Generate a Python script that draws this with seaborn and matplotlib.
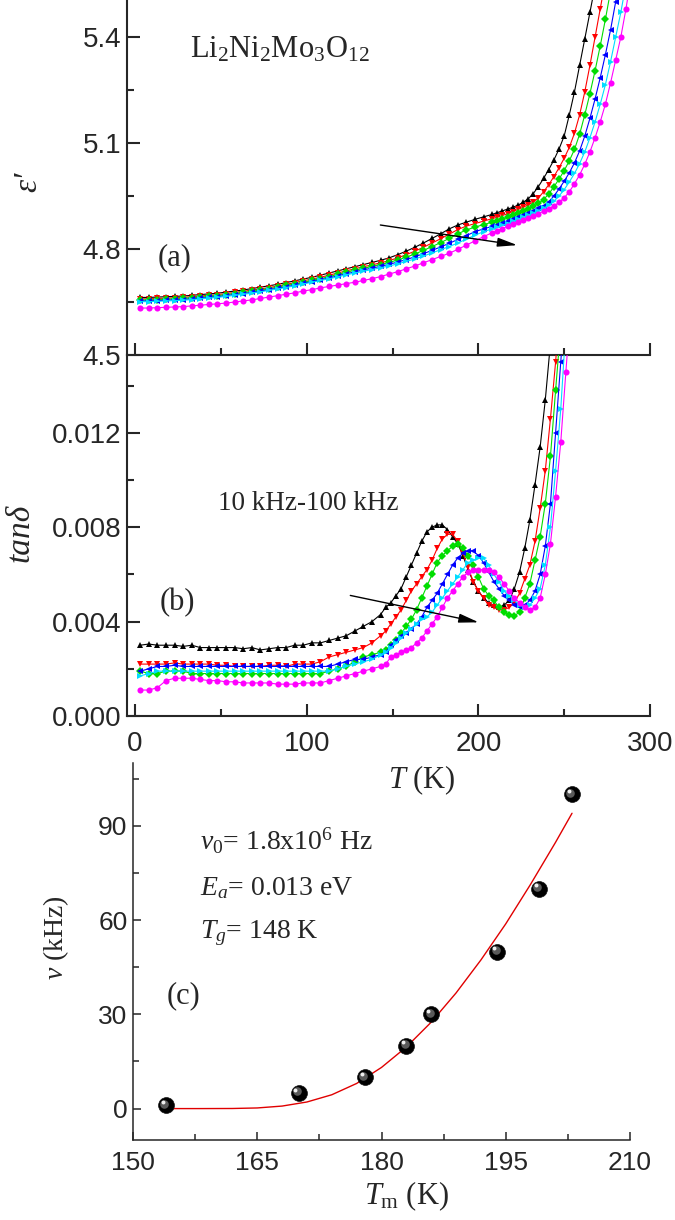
import pandas as pd
import matplotlib
matplotlib.use("Agg")
import matplotlib.pyplot as plt
import matplotlib.transforms as mtransforms
from matplotlib.ticker import MultipleLocator, FormatStrFormatter
import seaborn as sns

# ---- data ----
freqs = ["10 kHz", "20 kHz", "30 kHz", "50 kHz", "70 kHz", "100 kHz"]
colors = ["#000000", "#ff0000", "#00dd00", "#0000ff", "#00ddff", "#ff00ff"]
markers = ["^", "v", "D", "<", ">", "o"]

# (a) real permittivity
T_eps = [3, 8, 13, 18, 23, 28, 33, 38, 43, 48, 53, 58, 63, 68, 73, 78, 83, 88, 93, 98,
         103, 108, 113, 118, 123, 128, 133, 138, 143, 148, 153, 158, 163, 168, 173, 178,
         183, 188, 193, 198, 203, 208,
         211, 214, 217, 220, 223, 226, 229, 232, 235, 238, 241, 244, 247, 250, 253, 256,
         259, 262, 265, 268, 271, 274, 277, 280, 283, 286, 289]
eps_10k = [4.663, 4.663, 4.664, 4.665, 4.666, 4.667, 4.669, 4.671, 4.673, 4.675, 4.678, 4.681,
           4.684, 4.688, 4.692, 4.696, 4.700, 4.705, 4.710, 4.715, 4.720, 4.726, 4.732, 4.738,
           4.744, 4.750, 4.756, 4.762, 4.768, 4.775, 4.784, 4.794, 4.805, 4.817, 4.830, 4.843,
           4.857, 4.868, 4.876, 4.884, 4.891, 4.898,
           4.903, 4.908, 4.913, 4.918, 4.924, 4.932, 4.942, 4.957, 4.977, 5.000, 5.025, 5.052,
           5.083, 5.120, 5.180, 5.245, 5.320, 5.395, 5.470, 5.545,
           None, None, None, None, None, None, None]
eps_20k = [4.659, 4.659, 4.660, 4.661, 4.662, 4.663, 4.665, 4.667, 4.669, 4.671, 4.674, 4.677,
           4.680, 4.684, 4.687, 4.691, 4.695, 4.700, 4.705, 4.710, 4.715, 4.720, 4.726, 4.732,
           4.738, 4.744, 4.750, 4.755, 4.761, 4.767, 4.775, 4.784, 4.794, 4.805, 4.817, 4.829,
           4.842, 4.855, 4.865, 4.872, 4.879, 4.886,
           4.890, 4.895, 4.900, 4.906, 4.912, 4.918, 4.925, 4.933, 4.945, 4.962, 4.982, 5.005,
           5.030, 5.057, 5.088, 5.128, 5.180, 5.245, 5.320, 5.400, 5.480, 5.560,
           None, None, None, None, None]
eps_30k = [4.656, 4.656, 4.657, 4.658, 4.659, 4.660, 4.662, 4.664, 4.666, 4.668, 4.671, 4.674,
           4.677, 4.680, 4.684, 4.688, 4.692, 4.697, 4.701, 4.706, 4.711, 4.716, 4.722, 4.728,
           4.734, 4.740, 4.745, 4.751, 4.756, 4.762, 4.769, 4.777, 4.786, 4.796, 4.807, 4.818,
           4.830, 4.843, 4.854, 4.862, 4.869, 4.876,
           4.880, 4.885, 4.890, 4.896, 4.902, 4.908, 4.914, 4.921, 4.929, 4.940, 4.956, 4.976,
           4.998, 5.022, 5.050, 5.082, 5.125, 5.180, 5.240, 5.305, 5.375, 5.450, 5.530,
           None, None, None, None]
eps_50k = [4.653, 4.653, 4.654, 4.655, 4.656, 4.657, 4.659, 4.661, 4.663, 4.665, 4.668, 4.671,
           4.674, 4.677, 4.681, 4.685, 4.689, 4.693, 4.698, 4.703, 4.708, 4.713, 4.718, 4.724,
           4.730, 4.735, 4.741, 4.746, 4.751, 4.757, 4.763, 4.770, 4.778, 4.787, 4.796, 4.806,
           4.816, 4.827, 4.838, 4.849, 4.857, 4.864,
           4.868, 4.873, 4.878, 4.884, 4.890, 4.896, 4.902, 4.908, 4.915, 4.923, 4.934, 4.950,
           4.970, 4.992, 5.016, 5.044, 5.078, 5.120, 5.170, 5.225, 5.285, 5.350, 5.420, 5.500,
           5.580, None, None]
eps_70k = [4.651, 4.651, 4.652, 4.653, 4.654, 4.655, 4.657, 4.659, 4.661, 4.663, 4.666, 4.669,
           4.672, 4.675, 4.679, 4.683, 4.687, 4.691, 4.696, 4.701, 4.706, 4.711, 4.716, 4.721,
           4.727, 4.732, 4.737, 4.742, 4.747, 4.752, 4.758, 4.765, 4.772, 4.780, 4.789, 4.798,
           4.807, 4.817, 4.828, 4.839, 4.849, 4.857,
           4.862, 4.867, 4.872, 4.878, 4.884, 4.890, 4.896, 4.902, 4.909, 4.916, 4.924, 4.935,
           4.950, 4.968, 4.990, 5.014, 5.042, 5.075, 5.115, 5.160, 5.210, 5.265, 5.330, 5.400,
           5.470, 5.550, None]
eps_100k = [4.633, 4.633, 4.634, 4.635, 4.636, 4.637, 4.639, 4.641, 4.643, 4.645, 4.647, 4.650,
            4.653, 4.656, 4.660, 4.664, 4.668, 4.672, 4.676, 4.681, 4.685, 4.690, 4.694, 4.698,
            4.702, 4.706, 4.711, 4.716, 4.722, 4.729, 4.736, 4.744, 4.752, 4.761, 4.770, 4.779,
            4.788, 4.799, 4.811, 4.823, 4.835, 4.846,
            4.852, 4.858, 4.864, 4.870, 4.876, 4.882, 4.888, 4.894, 4.900, 4.907, 4.914, 4.922,
            4.932, 4.945, 4.962, 4.985, 5.010, 5.040, 5.075, 5.115, 5.160, 5.210, 5.270, 5.335,
            5.400, 5.480, 5.570]

# (b) loss tangent
T_tan = [3, 8, 13, 18, 23, 28, 33, 38, 43, 48, 53, 58, 63, 68, 73, 78, 83, 88, 93, 98,
         103, 108, 113, 118, 123, 128, 133, 138, 143,
         146, 149, 152, 155, 158, 161, 164, 167, 170, 173, 176, 179, 182, 185, 188, 191,
         194, 197, 200, 203, 206, 209, 212, 215, 218, 221, 224, 227, 230, 233, 236, 239,
         242, 245, 248, 251, 254]
tan_10k = [0.0030, 0.00305, 0.0030, 0.0030, 0.0030, 0.00295, 0.0030, 0.0029, 0.0029, 0.0029,
           0.0029, 0.0029, 0.00285, 0.0029, 0.0028, 0.00285, 0.0029, 0.0029, 0.0030, 0.0030,
           0.0031, 0.0031, 0.0032, 0.0033, 0.0034, 0.0036, 0.0038, 0.0040, 0.0043,
           0.0046, 0.0048, 0.0051, 0.0054, 0.0059, 0.0064, 0.0069, 0.0074, 0.0078, 0.0080,
           0.0081, 0.0081, 0.0079, 0.0076, 0.0073, 0.0068, 0.0062, 0.0057, 0.0053, 0.0050,
           0.0048, 0.0047, 0.0046, 0.0047, 0.0049, 0.0054, 0.0061, 0.0071, 0.0083, 0.0098,
           0.0114, 0.0134, 0.0158, None, None, None, None]
tan_20k = [0.0022, 0.0022, 0.0022, 0.0022, 0.00225, 0.0022, 0.0022, 0.0022, 0.0022, 0.00215,
           0.00215, 0.0021, 0.0021, 0.0021, 0.0021, 0.00215, 0.00215, 0.0021, 0.0022, 0.0022,
           0.0022, 0.0023, 0.0025, 0.0026, 0.0027, 0.0028, 0.0029, 0.0031, 0.0034,
           0.0036, 0.0039, 0.0042, 0.0045, 0.0049, 0.0053, 0.0056, 0.0059, 0.0062, 0.0066,
           0.0071, 0.0075, 0.0077, 0.0077, 0.0074, 0.0069, 0.0063, 0.0057, 0.0053, 0.0050,
           0.0047, 0.0046, 0.0045, 0.0045, 0.0046, 0.0048, 0.0052, 0.0058, 0.0064, 0.0074,
           0.0088, 0.0104, 0.0126, 0.0150, 0.0178, None, None]
tan_30k = [0.0019, 0.0018, 0.0018, 0.0019, 0.0019, 0.0019, 0.0018, 0.0018, 0.0018, 0.0018,
           0.0018, 0.0018, 0.0018, 0.0018, 0.0018, 0.0018, 0.0018, 0.0018, 0.0018, 0.0018,
           0.0018, 0.0018, 0.0019, 0.0020, 0.0021, 0.0023, 0.0025, 0.0026, 0.0027,
           0.0028, 0.0030, 0.0032, 0.0035, 0.0038, 0.0041, 0.0045, 0.0050, 0.0055, 0.0060,
           0.0065, 0.0068, 0.0070, 0.0072, 0.0073, 0.0071, 0.0068, 0.0064, 0.0059, 0.0054,
           0.0051, 0.0049, 0.0046, 0.0044, 0.0043, 0.00425, 0.0044, 0.0050, 0.0056, 0.0066,
           0.0076, 0.0090, 0.0110, 0.0138, 0.0165, 0.0190, None]
tan_50k = [0.0019, 0.0020, 0.0021, 0.0021, 0.00215, 0.0021, 0.0021, 0.0021, 0.0021, 0.0021,
           0.0021, 0.0021, 0.0021, 0.0021, 0.0021, 0.0021, 0.0021, 0.0021, 0.0021, 0.0021,
           0.0021, 0.0021, 0.0021, 0.0022, 0.0023, 0.0024, 0.0024, 0.0025, 0.0026,
           0.0027, 0.0030, 0.0032, 0.0034, 0.0035, 0.0037, 0.0039, 0.0042, 0.0046, 0.0049,
           0.0052, 0.0056, 0.0060, 0.0064, 0.0067, 0.0069, 0.0070, 0.0070, 0.0068, 0.0065,
           0.0061, 0.0057, 0.0054, 0.0051, 0.0049, 0.0047, 0.0046, 0.0047, 0.0049, 0.0053,
           0.0060, 0.0072, 0.0090, 0.0120, 0.0150, 0.0180, None]
tan_70k = [0.0017, 0.0018, 0.0019, 0.0019, 0.0019, 0.0019, 0.0019, 0.0019, 0.0019, 0.0019,
           0.0019, 0.0019, 0.0019, 0.0019, 0.0019, 0.0019, 0.0019, 0.0019, 0.0019, 0.0019,
           0.0019, 0.0019, 0.0019, 0.0020, 0.0021, 0.0022, 0.0023, 0.0024, 0.0026,
           0.0027, 0.0029, 0.0031, 0.0033, 0.0035, 0.0037, 0.0039, 0.0041, 0.0042, 0.0044,
           0.0047, 0.0050, 0.0053, 0.0056, 0.0059, 0.0062, 0.0065, 0.0066, 0.0067, 0.0067,
           0.0064, 0.0060, 0.0057, 0.0053, 0.0051, 0.0049, 0.0047, 0.0046, 0.0047, 0.0050,
           0.0054, 0.0064, 0.0080, 0.0104, 0.0130, 0.0165, 0.0195]
tan_100k = [0.0011, 0.0011, 0.0012, 0.0015, 0.0016, 0.0016, 0.0016, 0.00155, 0.0015, 0.0015,
            0.00145, 0.00145, 0.0014, 0.0014, 0.0014, 0.0014, 0.00135, 0.00135, 0.00135, 0.0014,
            0.0014, 0.0014, 0.0015, 0.0016, 0.0017, 0.0018, 0.0019, 0.0020, 0.0021,
            0.0022, 0.0025, 0.0026, 0.0027, 0.0028, 0.0029, 0.0031, 0.0033, 0.0036, 0.0039,
            0.0042, 0.0046, 0.0050, 0.0053, 0.0056, 0.0059, 0.0061, 0.0062, 0.0062, 0.0062,
            0.0062, 0.0061, 0.0059, 0.0056, 0.0053, 0.0050, 0.0048, 0.0046, 0.0045, 0.0046,
            0.0050, 0.0060, 0.0073, 0.0093, 0.0116, 0.0146, 0.0175]

# (c) peak temperature vs frequency, with the Vogel-Fulcher curve
Tm = [154, 170, 178, 183, 186, 194, 199, 203]
nu = [1, 5, 10, 20, 30, 50, 70, 100]
T_fit = [154, 158, 162, 165, 168, 171, 174, 177, 180, 183, 186, 189, 192, 195, 198, 201, 203]
nu_fit = [0.0, 0.0, 0.03, 0.2, 0.8, 2.1, 4.4, 8.0, 13.1, 19.6, 27.5, 36.8, 47.3, 58.8, 71.4, 84.7, 94.0]


def long_frame(T, series):
    rows = []
    for f, vals in zip(freqs, series):
        for t, v in zip(T, vals):
            rows.append((f, t, v))
    return pd.DataFrame(rows, columns=["freq", "T", "val"]).astype({"val": float})


eps_df = long_frame(T_eps, [eps_10k, eps_20k, eps_30k, eps_50k, eps_70k, eps_100k])
tan_df = long_frame(T_tan, [tan_10k, tan_20k, tan_30k, tan_50k, tan_70k, tan_100k])

sns.set_style("ticks")
plt.rcParams["font.family"] = ["Liberation Sans", "DejaVu Sans"]
plt.rcParams["mathtext.fontset"] = "custom"
plt.rcParams["mathtext.rm"] = "Liberation Serif"
plt.rcParams["mathtext.it"] = "Liberation Serif:italic"
plt.rcParams["mathtext.bf"] = "Liberation Serif:bold"
serif = ["Liberation Serif", "DejaVu Serif"]

W, H = 675, 1220
fig = plt.figure(figsize=(W / 100, H / 100), dpi=100)
ax_a = fig.add_axes([127 / W, 1 - 355 / H, 523 / W, 355 / H])
ax_b = fig.add_axes([127 / W, 1 - 716 / H, 523 / W, 361 / H])
ax_c = fig.add_axes([133 / W, 1 - 1140 / H, 497 / W, 377 / H])
for ax in (ax_a, ax_b, ax_c):
    ax.patch.set_visible(False)

pal = dict(zip(freqs, colors))
mk = dict(zip(freqs, markers))
for ax, df in [(ax_a, eps_df), (ax_b, tan_df)]:
    sns.lineplot(data=df, x="T", y="val", hue="freq", style="freq", hue_order=freqs,
                 style_order=freqs, palette=pal, markers=mk, dashes=False, errorbar=None,
                 linewidth=0.8, markersize=4.4, markeredgewidth=0, legend=False, ax=ax)

# sphere-like markers
sns.lineplot(x=T_fit, y=nu_fit, color="#e00000", linewidth=1.0, ax=ax_c, zorder=2)
sns.scatterplot(x=Tm, y=nu, color="black", s=130, edgecolor="#111111", linewidth=0.5,
                ax=ax_c, zorder=3)
mid = mtransforms.offset_copy(ax_c.transData, fig=fig, x=-1.2, y=1.2, units="points")
hi = mtransforms.offset_copy(ax_c.transData, fig=fig, x=-2.4, y=2.4, units="points")
ax_c.scatter(Tm, nu, s=38, color="#5a5a5a", linewidths=0, transform=mid, zorder=4)
ax_c.scatter(Tm, nu, s=8, color="#f0f0f0", linewidths=0, transform=hi, zorder=5)

# axes styling
for ax in (ax_a, ax_b, ax_c):
    ax.spines["top"].set_visible(False)
    ax.spines["right"].set_visible(False)
    ax.set_xlabel("")
    ax.set_ylabel("")

for ax in (ax_a, ax_b):
    for s in ("left", "bottom"):
        ax.spines[s].set_linewidth(1.5)
    ax.set_xlim(-4.7, 300)
    ax.xaxis.set_major_locator(MultipleLocator(100))
    ax.xaxis.set_minor_locator(MultipleLocator(50))
    ax.tick_params(which="both", direction="in", width=1.5, labelsize=20, pad=4)
    ax.tick_params(which="major", length=9)
    ax.tick_params(which="minor", length=5)

ax_a.set_ylim(4.5, 5.505)
ax_a.yaxis.set_major_locator(MultipleLocator(0.3))
ax_a.yaxis.set_minor_locator(MultipleLocator(0.15))
ax_a.yaxis.set_major_formatter(FormatStrFormatter("%.1f"))
ax_a.tick_params(axis="x", labelbottom=False)

ax_b.set_ylim(0, 0.0153)
ax_b.yaxis.set_major_locator(MultipleLocator(0.004))
ax_b.yaxis.set_minor_locator(MultipleLocator(0.002))
ax_b.yaxis.set_major_formatter(FormatStrFormatter("%.3f"))
ax_b.xaxis.set_major_formatter(FormatStrFormatter("%d"))
ax_b.tick_params(axis="x", pad=11)

for s in ("left", "bottom"):
    ax_c.spines[s].set_linewidth(1.1)
ax_c.set_xlim(150, 210)
ax_c.set_ylim(-10, 110)
ax_c.xaxis.set_major_locator(MultipleLocator(15))
ax_c.xaxis.set_minor_locator(MultipleLocator(7.5))
ax_c.yaxis.set_major_locator(MultipleLocator(30))
ax_c.yaxis.set_minor_locator(MultipleLocator(15))
ax_c.xaxis.set_major_formatter(FormatStrFormatter("%d"))
ax_c.yaxis.set_major_formatter(FormatStrFormatter("%d"))
ax_c.tick_params(which="both", direction="in", width=1.1, labelsize=19, pad=4)
ax_c.tick_params(which="major", length=6)
ax_c.tick_params(which="minor", length=4)
ax_c.tick_params(axis="x", pad=8)

# axis labels
ax_a.set_ylabel("ε′", fontsize=24, family=serif, style="italic")
ax_a.yaxis.set_label_coords(-0.19, 0.487)
ax_b.set_ylabel("tanδ", fontsize=24, family=serif, style="italic")
ax_b.yaxis.set_label_coords(-0.205, 0.507)
ax_b.set_xlabel(r"$T$ (K)", fontsize=22, family=serif)
ax_b.xaxis.set_label_coords(0.564, -0.2)
ax_c.set_ylabel(r"$\nu$ (kHz)", fontsize=20, family=serif)
ax_c.yaxis.set_label_coords(-0.155, 0.536)
ax_c.set_xlabel(r"$T_{\rm m}$ (K)", fontsize=22, family=serif)
ax_c.xaxis.set_label_coords(0.551, -0.17)
for ax in (ax_a, ax_b, ax_c):
    ax.yaxis.label.set_verticalalignment("center")
for ax in (ax_b, ax_c):
    ax.xaxis.label.set_verticalalignment("baseline")

# annotations
ax_a.text(0.12, 0.839, r"Li$_2$Ni$_2$Mo$_3$O$_{12}$", transform=ax_a.transAxes,
          fontsize=22, family=serif, va="baseline")
ax_a.text(0.059, 0.254, "(a)", transform=ax_a.transAxes, fontsize=22, family=serif,
          va="baseline")
ax_b.text(0.174, 0.571, "10 kHz-100 kHz", transform=ax_b.transAxes, fontsize=19.5,
          family=serif, va="baseline")
ax_b.text(0.063, 0.294, "(b)", transform=ax_b.transAxes, fontsize=22, family=serif,
          va="baseline")
ax_c.text(0.135, 0.769, r"$\nu_{\mathit{0}}$= 1.8x10$^6$ Hz", transform=ax_c.transAxes,
          fontsize=20, family=serif, va="baseline")
ax_c.text(0.135, 0.650, r"$E_a$= 0.013 eV", transform=ax_c.transAxes, fontsize=20,
          family=serif, va="baseline")
ax_c.text(0.135, 0.536, r"$T_g$= 148 K", transform=ax_c.transAxes, fontsize=20,
          family=serif, va="baseline")
ax_c.text(0.068, 0.363, "(c)", transform=ax_c.transAxes, fontsize=22, family=serif,
          va="baseline")

arrow = dict(arrowstyle="-|>,head_length=0.75,head_width=0.17", color="black", lw=1.0,
             mutation_scale=16, shrinkA=0, shrinkB=0)
ax_a.annotate("", xy=(222.7, 4.811), xytext=(142.9, 4.868), arrowprops=arrow)
ax_b.annotate("", xy=(200.2, 0.00397), xytext=(125.4, 0.00511), arrowprops=arrow)

fig.savefig("out.png", dpi=100)
